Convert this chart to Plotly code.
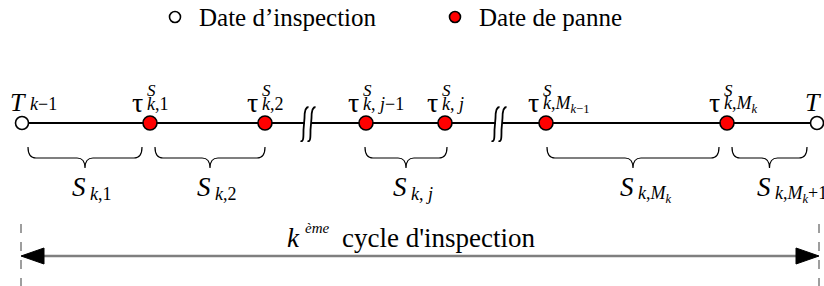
import plotly.graph_objects as go

W, H = 824, 286
SERIF = "Liberation Serif, Times New Roman, serif"

# ---- data (timeline positions, in the drawing's own units) ----
inspection_dates = [22, 817]
inspection_subs = ["<i>k</i>−1", "<i>k</i>"]
failure_dates = [150, 265, 366, 445, 546, 727]
failure_subs = ["<i>k</i>,1", "<i>k</i>,2", "<i>k</i>, <i>j</i>−1", "<i>k</i>, <i>j</i>",
                "<i>k</i>,<i>M</i><sub><i>k</i>−1</sub>", "<i>k</i>,<i>M</i><sub><i>k</i></sub>"]
break_positions = [308, 499]
interval_starts = [28, 155, 365, 547, 732]
interval_ends = [142, 265, 447, 719, 807]
interval_subs = ["<i>k</i>,1", "<i>k</i>,2", "<i>k</i>, <i>j</i>", "<i>k</i>,<i>M</i><sub><i>k</i></sub>",
                 "<i>k</i>,<i>M</i><sub><i>k</i></sub>+1"]
cycle_start, cycle_end = 21, 819
legend_labels = ["Date d’inspection", "Date de panne"]
legend_x = [175, 455]

LINE_Y = 123
fig = go.Figure()
shapes = []
ann = []

# main time line
shapes.append(dict(type="line", x0=inspection_dates[0], x1=inspection_dates[-1], y0=LINE_Y, y1=LINE_Y,
                   line=dict(color="black", width=2), layer="below"))

# breaks (integral-like strokes)
for xb in break_positions:
    shapes.append(dict(type="rect", x0=xb - 3, x1=xb + 3, y0=LINE_Y - 2, y1=LINE_Y + 2,
                       fillcolor="white", line=dict(width=0), layer="below"))
    for dx in (-3.5, 3.5):
        xc = xb + dx
        path = (f"M {xc-4},{141} C {xc-1},{142} {xc-1},{138} {xc-1},{130} "
                f"L {xc},{118} C {xc},{110} {xc+1},{107} {xc+4},{107}")
        shapes.append(dict(type="path", path=path, line=dict(color="black", width=1.8), layer="above"))

# markers
fig.add_trace(go.Scatter(x=inspection_dates, y=[LINE_Y] * len(inspection_dates), mode="markers",
                         marker=dict(size=13, color="white", line=dict(color="black", width=1.6)),
                         hoverinfo="skip", showlegend=False))
fig.add_trace(go.Scatter(x=failure_dates, y=[LINE_Y] * len(failure_dates), mode="markers",
                         marker=dict(size=14, color="#ff0000", line=dict(color="black", width=1.6)),
                         hoverinfo="skip", showlegend=False))

# legend
fig.add_trace(go.Scatter(x=legend_x, y=[17, 17], mode="markers",
                         marker=dict(size=11, color=["white", "#ff0000"], line=dict(color="black", width=1.6)),
                         hoverinfo="skip", showlegend=False))
for lx, lt in zip(legend_x, legend_labels):
    ann.append(dict(x=lx + 22, y=17, text=lt, xanchor="left", yanchor="middle", showarrow=False,
                    font=dict(family=SERIF, size=25, color="black")))

# labels above points
def label(x, main, sup, sub, italic_main):
    t = f"<i>{main}</i>" if italic_main else main
    ann.append(dict(x=x, y=102, text=t, xanchor="right", yanchor="middle", showarrow=False,
                    font=dict(family=SERIF, size=28 if not italic_main else 26, color="black")))
    if sup:
        ann.append(dict(x=x, y=90, text=f"<i>{sup}</i>", xanchor="left", yanchor="middle", showarrow=False,
                        font=dict(family=SERIF, size=17, color="black")))
    ann.append(dict(x=x, y=104, text=sub, xanchor="left", yanchor="middle", showarrow=False,
                    font=dict(family=SERIF, size=18, color="black")))

label(inspection_dates[0] + 6, "T", None, inspection_subs[0], True)
label(inspection_dates[1] + 6, "T", None, inspection_subs[1], True)
for xf, sb in zip(failure_dates, failure_subs):
    label(xf - 5, "τ", "S", sb, False)

# braces under intervals
top, mid, tip = 147, 158, 168
for a, b, sb in zip(interval_starts, interval_ends, interval_subs):
    m = (a + b) / 2
    r = 8
    path = (f"M {a},{top} Q {a},{mid} {a+r},{mid} L {m-r},{mid} Q {m},{mid} {m},{tip} "
            f"Q {m},{mid} {m+r},{mid} L {b-r},{mid} Q {b},{mid} {b},{top}")
    shapes.append(dict(type="path", path=path, line=dict(color="black", width=1.2)))
    ann.append(dict(x=m + 3, y=187, text="<i>S</i>", xanchor="right", yanchor="middle", showarrow=False,
                    font=dict(family=SERIF, size=27, color="black")))
    ann.append(dict(x=m + 3, y=194, text=sb, xanchor="left", yanchor="middle", showarrow=False,
                    font=dict(family=SERIF, size=18, color="black")))

# cycle arrow
ARROW_Y = 256
for xv in (cycle_start, cycle_end):
    shapes.append(dict(type="line", x0=xv, x1=xv, y0=224, y1=286,
                       line=dict(color="#7f7f7f", width=1.5, dash="dash")))
shapes.append(dict(type="line", x0=cycle_start + 20, x1=cycle_end - 20, y0=ARROW_Y, y1=ARROW_Y,
                   line=dict(color="#7f7f7f", width=2.5)))
shapes.append(dict(type="path",
                   path=f"M {cycle_start},{ARROW_Y} L {cycle_start+23},{ARROW_Y-8} L {cycle_start+23},{ARROW_Y+8} Z",
                   fillcolor="black", line=dict(color="black", width=1)))
shapes.append(dict(type="path",
                   path=f"M {cycle_end},{ARROW_Y} L {cycle_end-23},{ARROW_Y-8} L {cycle_end-23},{ARROW_Y+8} Z",
                   fillcolor="black", line=dict(color="black", width=1)))
ann.append(dict(x=302, y=238, text="<i>k</i>", xanchor="right", yanchor="middle", showarrow=False,
                font=dict(family=SERIF, size=27, color="black")))
ann.append(dict(x=303, y=228, text="<i>ème</i>", xanchor="left", yanchor="middle", showarrow=False,
                font=dict(family=SERIF, size=15, color="black")))
ann.append(dict(x=340, y=238, text="cycle d'inspection", xanchor="left", yanchor="middle", showarrow=False,
                font=dict(family=SERIF, size=27, color="black")))

fig.update_layout(
    width=W, height=H, margin=dict(l=0, r=0, t=0, b=0),
    paper_bgcolor="white", plot_bgcolor="white",
    xaxis=dict(range=[0, W], visible=False, fixedrange=True),
    yaxis=dict(range=[H, 0], visible=False, fixedrange=True),
    shapes=shapes, annotations=ann, showlegend=False,
)
fig.write_html("out.html", config={"displayModeBar": False},
               post_script="document.body.style.margin='0';document.body.style.overflow='hidden';")
